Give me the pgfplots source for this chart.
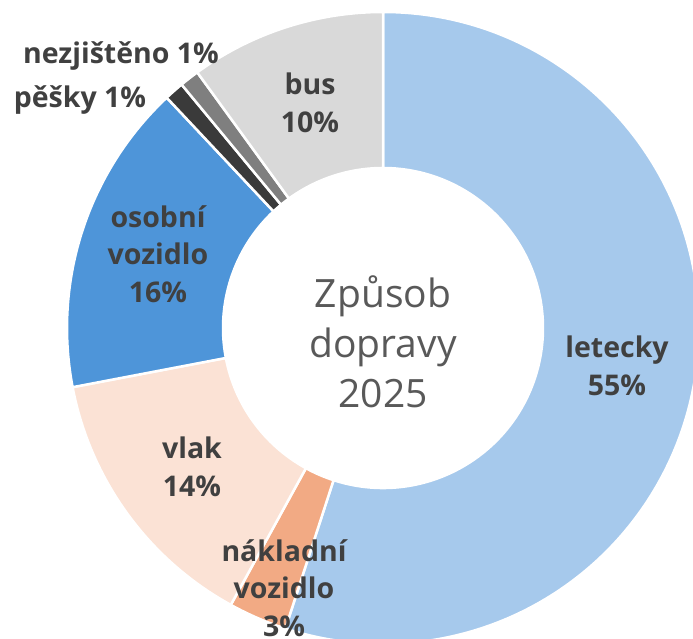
\documentclass[border=0pt]{standalone}
\usepackage{pgfplots}
\usepackage{pgfplotstable}
\pgfplotsset{compat=1.18}
\usepackage{fontspec}
\setmainfont{Open Sans}
\definecolor{slice0}{HTML}{A6C9EC}
\definecolor{slice1}{HTML}{F2AA84}
\definecolor{slice2}{HTML}{FBE2D5}
\definecolor{slice3}{HTML}{4E95D9}
\definecolor{slice4}{HTML}{3A3A3A}
\definecolor{slice5}{HTML}{7F7F7F}
\definecolor{slice6}{HTML}{D9D9D9}
\definecolor{lblc}{HTML}{404040}
\definecolor{ctrc}{HTML}{595959}
\tikzset{lbl/.style={font=\fontsize{28.5}{37.5}\selectfont\bfseries, text=lblc, align=center, inner sep=0pt}}
\pgfplotstableread[col sep=comma]{
label,value
letecky,55
nakladni vozidlo,3
vlak,14
osobni vozidlo,16
pesky,1
nezjisteno,1
bus,10
}\datatable
\def\cx{383}\def\cy{311}\def\Ro{316}\def\Ri{160}
\begin{document}
\begin{tikzpicture}
\path[use as bounding box] (0,0) rectangle (693pt,639pt);
\clip (0,0) rectangle (693pt,639pt);
\begin{axis}[at={(0,0)}, anchor=south west, x=1pt, y=1pt,
  xmin=0, xmax=693, ymin=0, ymax=639, hide axis, clip=false]
\gdef\startang{90}
\pgfplotsinvokeforeach{0,...,6}{
  \pgfplotstablegetelem{#1}{value}\of\datatable
  \pgfmathsetmacro\endang{\startang - 3.6*\pgfplotsretval}
  \edef\tmp{\noexpand\fill[fill=slice#1, draw=white, line width=2.5pt, line join=round]
    (axis cs:{\cx+\Ro*cos(\startang)},{\cy+\Ro*sin(\startang)})
    arc[start angle=\startang, end angle=\endang, radius=\Ro pt]
    -- (axis cs:{\cx+\Ri*cos(\endang)},{\cy+\Ri*sin(\endang)})
    arc[start angle=\endang, end angle=\startang, radius=\Ri pt] -- cycle;}
  \tmp
  \global\let\startang\endang
}
\node[lbl] at (axis cs:617,273) {letecky\\55\%};
\node[lbl] at (axis cs:284,51) {nákladní\\vozidlo\\3\%};
\node[lbl] at (axis cs:192,172) {vlak\\14\%};
\node[lbl] at (axis cs:158,385) {osobní\\vozidlo\\16\%};
\node[lbl] at (axis cs:80,539) {pěšky 1\%};
\node[lbl] at (axis cs:121,583) {nezjištěno 1\%};
\node[lbl] at (axis cs:310,536) {bus\\10\%};
\node[font=\fontsize{39}{50}\selectfont, text=ctrc, align=center, inner sep=0pt] at (axis cs:383,297) {Způsob\\dopravy\\2025};
\end{axis}
\end{tikzpicture}
\end{document}
